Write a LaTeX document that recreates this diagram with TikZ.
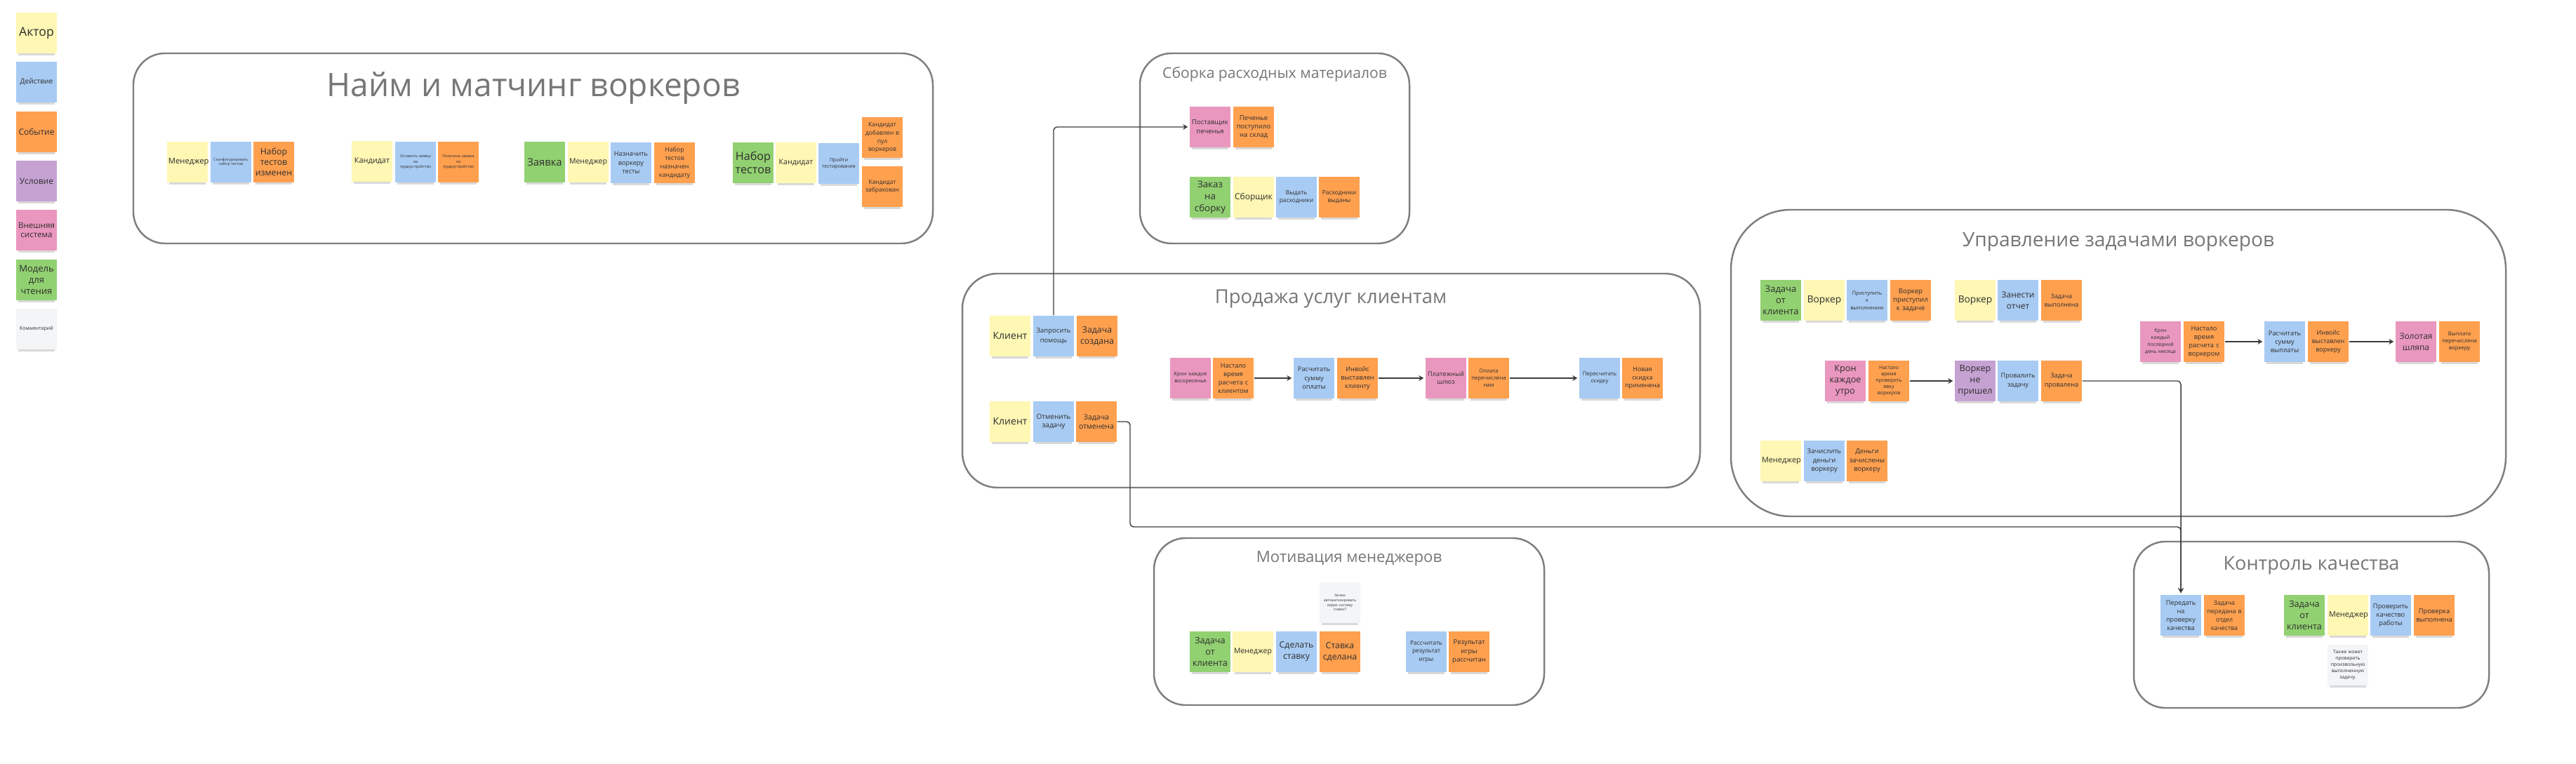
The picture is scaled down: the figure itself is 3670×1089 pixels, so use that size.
\documentclass[tikz,border=0pt]{standalone}
\usepackage{fontspec}
\setmainfont{Open Sans}
\usetikzlibrary{shapes,arrows.meta,positioning,calc,shadows}

\definecolor{stYellow}{HTML}{FFF7B4}
\definecolor{stBlue}{HTML}{A8CBF3}
\definecolor{stOrange}{HTML}{FFA04F}
\definecolor{stPurple}{HTML}{C6A2D3}
\definecolor{stPink}{HTML}{EA97BF}
\definecolor{stGreen}{HTML}{92D171}
\definecolor{stGray}{HTML}{F4F5F7}
\definecolor{noteText}{HTML}{2E2E2E}
\definecolor{ctxLine}{HTML}{7E7E7E}
\definecolor{ctxTitle}{HTML}{767676}
\definecolor{flowLine}{HTML}{3C3C3C}

\newcommand{\nf}[2]{\fontsize{#1}{#2}\selectfont}

\tikzset{
    note/.style={minimum size=0.58cm, inner sep=0pt, text width=0.54cm, align=center, text=noteText,
                 drop shadow={opacity=0.3, shadow xshift=0pt, shadow yshift=-2pt, shadow scale=0.9}},
    actor/.style={note, fill=stYellow},
    action/.style={note, fill=stBlue},
    event/.style={note, fill=stOrange},
    policy/.style={note, fill=stPurple},
    extsys/.style={note, fill=stPink},
    readm/.style={note, fill=stGreen},
    remark/.style={note, fill=stGray},
    fs/.style 2 args={font=\nf{#1}{#2}},
    bcontext/.style={draw=ctxLine, line width=0.7pt},
    bctitle/.style={text=ctxTitle, anchor=base},
    flow/.style={draw=flowLine, line width=0.4pt, rounded corners=0.05cm,
                 -{Stealth[length=0.07cm, width=0.08cm]}, shorten >=0.02cm},
}

\begin{document}
\begin{tikzpicture}[x=0.01cm, y=-0.01cm]
    \useasboundingbox (0,0) rectangle (3670,1089);

    % Legend
    \node[actor, fs={5.0}{6.5}] (lgActor) at (52,47) {Актор};
    \node[action, fs={2.9}{3.8}] (lgAction) at (52,117) {Действие};
    \node[event, fs={3.4}{4.4}] (lgEvent) at (52,188) {Событие};
    \node[policy, fs={3.4}{4.4}] (lgPolicy) at (52,258) {Условие};
    \node[extsys, fs={3.3}{3.9}] (lgExt) at (52,328) {Внешняя\\система};
    \node[readm, fs={3.7}{4.5}] (lgRead) at (52,399) {Модель\\для\\чтения};
    \node[remark, fs={2.0}{2.6}] (lgRemark) at (52,469) {Комментарий};

    % Hiring and matching
    \draw[bcontext, rounded corners=0.45cm] (190,76) rectangle (1329,347);
    \node[bctitle, font=\nf{13.1}{16}] (hTitle) at (760,138) {Найм и матчинг воркеров};
    \node[actor, fs={3.2}{4.2}] (hMen) at (267,231) {Менеджер};
    \node[action, fs={1.5}{1.8}] (hConf) at (329,231) {Сконфигурировать\\набор тестов};
    \node[event, fs={3.5}{4.3}] (hSet) at (390,231) {Набор\\тестов\\изменен};
    \node[actor, fs={3.1}{4.0}] (hCand) at (530,230) {Кандидат};
    \node[action, fs={1.55}{2.1}] (hApply) at (592,231) {Оставить заявку\\на\\трудоустройство};
    \node[event, fs={1.55}{2.1}] (hApplied) at (653,231) {Получена заявка\\на\\трудоустройство};
    \node[readm, fs={4.2}{5.2}] (hReq) at (776,231) {Заявка};
    \node[actor, fs={3.0}{4.0}] (hMenB) at (838,231) {Менеджер};
    \node[action, fs={2.6}{3.5}] (hAssign) at (899,232) {Назначить\\воркеру\\тесты};
    \node[event, fs={2.5}{3.4}] (hAssigned) at (961,232) {Набор\\тестов\\назначен\\кандидату};
    \node[readm, fs={4.6}{5.4}] (hTests) at (1073,232) {Набор\\тестов};
    \node[actor, fs={3.0}{4.0}] (hCandB) at (1134,232) {Кандидат};
    \node[action, fs={2.0}{2.65}] (hPass) at (1195,233) {Пройти\\тестирование};
    \node[event, fs={2.45}{3.4}] (hPool) at (1257,196) {Кандидат\\добавлен в\\пул\\воркеров};
    \node[event, fs={2.4}{3.1}] (hReject) at (1257,266) {Кандидат\\забракован};

    % Supplies
    \draw[bcontext, rounded corners=0.45cm] (1624,76) rectangle (2008,347);
    \node[bctitle, font=\nf{6.0}{7}] (sTitle) at (1816,112) {Сборка расходных материалов};
    \node[extsys, fs={2.7}{3.7}] (sSupplier) at (1724,181) {Поставщик\\печенья};
    \node[event, fs={2.7}{3.5}] (sArrived) at (1786,181) {Печенье\\поступило\\на склад};
    \node[readm, fs={3.8}{4.8}] (sOrder) at (1724,281) {Заказ\\на\\сборку};
    \node[actor, fs={3.4}{4.4}] (sPicker) at (1786,281) {Сборщик};
    \node[action, fs={2.4}{3.2}] (sGive) at (1847,281) {Выдать\\расходники};
    \node[event, fs={2.4}{3.2}] (sGiven) at (1908,281) {Расходники\\выданы};

    % Sales
    \draw[bcontext, rounded corners=0.5cm] (1371,390) rectangle (2422,695);
    \node[bctitle, font=\nf{7.8}{9}] (cTitle) at (1896,433) {Продажа услуг клиентам};
    \node[actor, fs={4.0}{5.0}] (cClient) at (1439,479) {Клиент};
    \node[action, fs={2.7}{3.8}] (cHelp) at (1501,479) {Запросить\\помощь};
    \node[event, fs={3.5}{4.6}] (cCreated) at (1563,479) {Задача\\создана};
    \node[actor, fs={4.0}{5.0}] (cClientB) at (1439,601) {Клиент};
    \node[action, fs={2.85}{3.6}] (cCancel) at (1501,601) {Отменить\\задачу};
    \node[event, fs={3.0}{3.8}] (cCanceled) at (1562,601) {Задача\\отменена};
    \node[extsys, fs={2.1}{2.9}] (cCron) at (1696,539) {Крон каждое\\воскресенье};
    \node[event, fs={2.6}{3.4}] (cTime) at (1757,539) {Настало\\время\\расчета с\\клиентом};
    \node[action, fs={2.65}{3.5}] (cCalc) at (1872,539) {Расчитать\\сумму\\оплаты};
    \node[event, fs={2.6}{3.4}] (cInvoice) at (1934,539) {Инвойс\\выставлен\\клиенту};
    \node[extsys, fs={2.6}{3.1}] (cGate) at (2060,539) {Платежный\\шлюз};
    \node[event, fs={2.2}{2.85}] (cPaid) at (2121,539) {Оплата\\перечислена\\нам};
    \node[action, fs={2.2}{2.9}] (cDisc) at (2279,539) {Пересчитать\\скидку};
    \node[event, fs={2.55}{3.2}] (cNewDisc) at (2340,539) {Новая\\скидка\\применена};

    % Worker task management
    \draw[bcontext, rounded corners=0.85cm] (2466,299) rectangle (3570,736);
    \node[bctitle, font=\nf{8.0}{9}] (tTitle) at (3018,352) {Управление задачами воркеров};
    \node[readm, fs={3.7}{4.55}] (tTask) at (2537,428) {Задача\\от\\клиента};
    \node[actor, fs={3.9}{4.8}] (tWorker) at (2599,428) {Воркер};
    \node[action, fs={2.1}{3.0}] (tStart) at (2660,428) {Приступить\\к\\выполнению};
    \node[event, fs={2.75}{3.5}] (tStarted) at (2722,428) {Воркер\\приступил\\к задаче};
    \node[actor, fs={3.9}{4.8}] (tWorkerB) at (2814,428) {Воркер};
    \node[action, fs={3.4}{4.55}] (tReport) at (2875,428) {Занести\\отчет};
    \node[event, fs={2.5}{3.4}] (tDone) at (2937,428) {Задача\\выполнена};
    \node[extsys, fs={3.6}{4.55}] (tCron) at (2629,543) {Крон\\каждое\\утро};
    \node[event, fs={2.0}{2.55}] (tTime) at (2691,543) {Настало\\время\\проверить\\явку\\воркеров};
    \node[policy, fs={3.6}{4.55}] (tAbsent) at (2814,543) {Воркер\\не\\пришел};
    \node[action, fs={2.6}{3.7}] (tFail) at (2875,543) {Провалить\\задачу};
    \node[event, fs={2.6}{3.7}] (tFailed) at (2937,543) {Задача\\провалена};
    \node[actor, fs={3.1}{4.0}] (tMen) at (2537,657) {Менеджер};
    \node[action, fs={2.7}{3.5}] (tCredit) at (2599,657) {Зачислить\\деньги\\воркеру};
    \node[event, fs={2.7}{3.5}] (tCredited) at (2660,657) {Деньги\\зачислены\\воркеру};
    \node[extsys, fs={2.0}{2.85}] (tCronB) at (3078,487) {Крон\\каждый\\последний\\день месяца};
    \node[event, fs={2.65}{3.4}] (tTimeB) at (3140,487) {Настало\\время\\расчета с\\воркером};
    \node[action, fs={2.65}{3.4}] (tCalc) at (3255,487) {Расчитать\\сумму\\выплаты};
    \node[event, fs={2.55}{3.4}] (tInvoice) at (3317,487) {Инвойс\\выставлен\\воркеру};
    \node[extsys, fs={3.4}{4.55}] (tHat) at (3442,487) {Золотая\\шляпа};
    \node[event, fs={2.2}{2.85}] (tPaid) at (3504,487) {Выплата\\перечислена\\воркеру};

    % Manager motivation
    \draw[bcontext, rounded corners=0.45cm] (1644,767) rectangle (2200,1005);
    \node[bctitle, font=\nf{6.3}{7}] (mTitle) at (1922,802) {Мотивация менеджеров};
    \node[remark, fs={1.45}{1.9}] (mWhy) at (1909,859) {Зачем\\автоматизировать\\серую систему\\ставок?};
    \node[readm, fs={3.6}{4.5}] (mTask) at (1724,929) {Задача\\от\\клиента};
    \node[actor, fs={3.0}{4.0}] (mMen) at (1785,929) {Менеджер};
    \node[action, fs={3.5}{4.55}] (mBet) at (1847,929) {Сделать\\ставку};
    \node[event, fs={3.5}{4.55}] (mBetDone) at (1909,929) {Ставка\\сделана};
    \node[action, fs={2.4}{3.4}] (mCalc) at (2032,929) {Рассчитать\\результат\\игры};
    \node[event, fs={2.7}{3.5}] (mResult) at (2093,929) {Результат\\игры\\рассчитан};

    % Quality control
    \draw[bcontext, rounded corners=0.45cm] (3040,772) rectangle (3546,1009);
    \node[bctitle, font=\nf{7.7}{9}] (qTitle) at (3293,813) {Контроль качества};
    \node[action, fs={2.6}{3.4}] (qSend) at (3107,877) {Передать\\на\\проверку\\качества};
    \node[event, fs={2.5}{3.4}] (qSent) at (3169,877) {Задача\\передана в\\отдел\\качества};
    \node[readm, fs={3.6}{4.55}] (qTask) at (3283,877) {Задача\\от\\клиента};
    \node[actor, fs={3.1}{4.0}] (qMen) at (3345,877) {Менеджер};
    \node[action, fs={2.65}{3.4}] (qCheck) at (3406,877) {Проверить\\качество\\работы};
    \node[event, fs={2.65}{3.4}] (qChecked) at (3468,877) {Проверка\\выполнена};
    \node[remark, fs={1.9}{2.5}] (qAny) at (3345,948) {Также может\\проверить\\произвольную\\выполненную\\задачу.};

    % Flows
    \coordinate (cancelBend) at (1610,751);
    \draw[flow] (cHelp.north) |- (sSupplier.west);
    \draw[flow] (cTime.east) -- (cCalc.west);
    \draw[flow] (cInvoice.east) -- (cGate.west);
    \draw[flow] (cPaid.east) -- (cDisc.west);
    \draw[flow] (tTime.east) -- (tAbsent.west);
    \draw[flow] (tTimeB.east) -- (tCalc.west);
    \draw[flow] (tInvoice.east) -- (tHat.west);
    \draw[flow] (tFailed.east) -| (qSend.north);
    \draw[flow] (cCanceled.east) -| (cancelBend) -| (qSend.north);
\end{tikzpicture}
\end{document}
